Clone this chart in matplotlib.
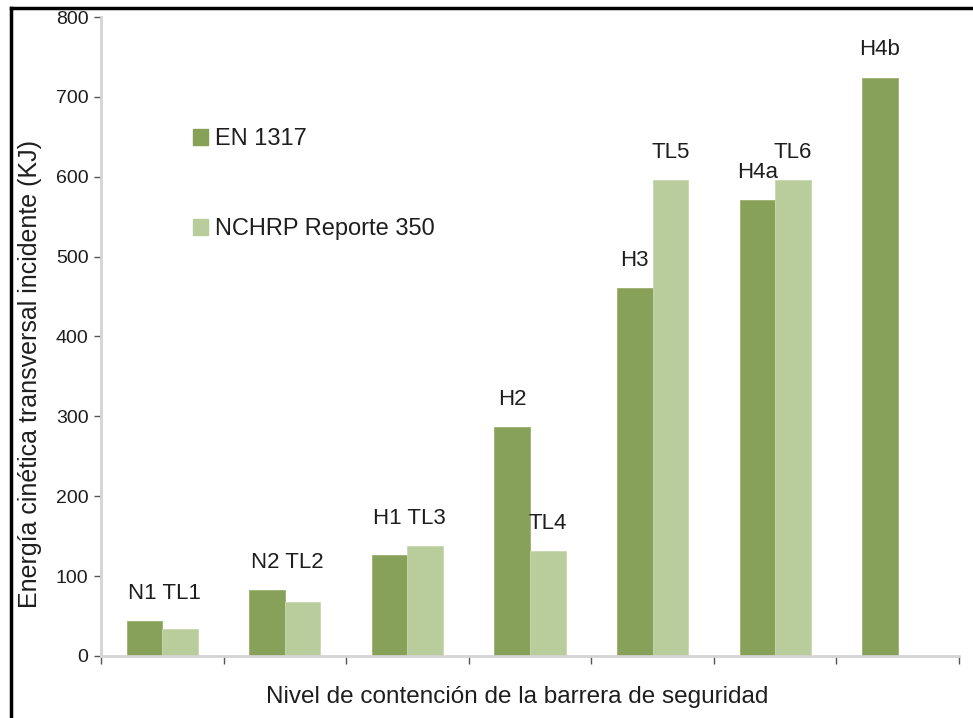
import numpy as np
import matplotlib
matplotlib.use('Agg')
import matplotlib.pyplot as plt
from matplotlib.patches import Patch
from matplotlib.lines import Line2D

plt.rcParams['font.family'] = ['Liberation Sans', 'DejaVu Sans']

# data (kJ)
en_labels = ['N1', 'N2', 'H1', 'H2', 'H3', 'H4a', 'H4b']
en_values = [44, 82, 126, 287, 461, 571, 724]
nc_labels = ['TL1', 'TL2', 'TL3', 'TL4', 'TL5', 'TL6', '']
nc_values = [34, 67, 138, 131, 596, 596, np.nan]

dark = '#88a158'
light = '#b8cc9c'
text_col = '#1e1e1e'

fig = plt.figure(figsize=(9.73, 7.18), dpi=100)
ax = fig.add_axes([0.1038, 0.0864, 0.8818, 0.8899])

x = np.arange(len(en_labels))
w = 0.29
b1 = ax.bar(x - w/2, en_values, w, color=dark, edgecolor='#9cb06e', linewidth=0.6)
b2 = ax.bar(x + w/2, nc_values, w, color=light, edgecolor='#c8d8b0', linewidth=0.6)

# labels over bars; near-equal pairs get one joint label
lab = dict(textcoords='offset points', ha='center', va='baseline', fontsize=16, color=text_col)
for i in range(len(x)):
    a, b = en_values[i], nc_values[i]
    if not np.isnan(b) and abs(a - b) < 20:
        ax.annotate(en_labels[i] + ' ' + nc_labels[i], (x[i] + 0.02, max(a, b)), xytext=(0, 16), **lab)
        continue
    ax.annotate(en_labels[i], (x[i] - w/2, a), xytext=(0, 16), **lab)
    if nc_labels[i]:
        ax.annotate(nc_labels[i], (x[i] + w/2, b), xytext=(0, 16), **lab)

ax.set_xlim(-0.5, len(x) - 0.5)
ax.set_ylim(0, 800)
ax.set_yticks(np.arange(0, 801, 100))
ax.set_xticks(np.arange(-0.5, len(x), 1))
ax.set_xticklabels([])
ax.tick_params(axis='y', labelsize=14, length=5, width=1, color='#555555', labelcolor=text_col, pad=4)
ax.tick_params(axis='x', length=6, width=1, color='#555555')
for s in ['top', 'right']:
    ax.spines[s].set_visible(False)
for s in ['left', 'bottom']:
    ax.spines[s].set_color('#d4d4d4')
    ax.spines[s].set_linewidth(2)

handles = [Patch(color=dark, label='EN 1317'), Patch(color=light, label='NCHRP Reporte 350')]
ax.legend(handles=handles, loc='upper left', bbox_to_anchor=(0.107, 0.826), frameon=False,
          fontsize=17, handlelength=0.65, handleheight=0.65, handletextpad=0.3,
          labelspacing=2.87, borderpad=0, borderaxespad=0, labelcolor=text_col)

fig.text(517/973, 1 - 697/718, 'Nivel de contención de la barrera de seguridad',
         ha='center', va='center', fontsize=17.5, color=text_col)
fig.text(30/973, 1 - 374/718, 'Energía cinética transversal incidente (KJ)',
         ha='center', va='center', rotation=90, fontsize=18, color=text_col)

# frame of the original figure
fig.add_artist(Line2D([11/973, 11/973], [0, 1 - 8/718], color='black', lw=2.5, transform=fig.transFigure))
fig.add_artist(Line2D([11/973, 1], [1 - 8/718, 1 - 8/718], color='black', lw=2.5, transform=fig.transFigure))

fig.savefig('out.png', dpi=100)
